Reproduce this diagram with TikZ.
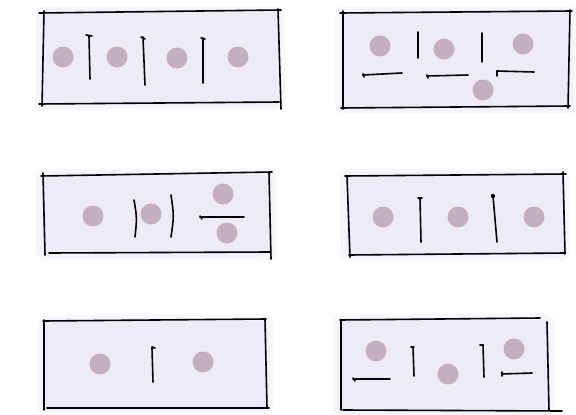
\documentclass[tikz,border=0pt]{standalone}
\usepackage{tikz}
\usetikzlibrary{positioning, calc}
\definecolor{panelfill}{HTML}{EDEBF7}
\definecolor{dotfill}{HTML}{C4AFC0}
\tikzstyle{pen}   = [line width=1.6pt, draw=black, line cap=round]
\tikzstyle{glow}  = [fill=panelfill, opacity=0.4, rounded corners=8pt]
\tikzstyle{panel} = [fill=panelfill]
\tikzstyle{dot}   = [circle, fill=dotfill, minimum size=21pt, inner sep=0pt]
\tikzstyle{bar}   = [line width=1.6pt, draw=black, line cap=round]

\begin{document}
\begin{tikzpicture}[x=1pt, y=-1pt]
  \useasboundingbox (0,0) rectangle (576,415);

  % soft background of the panels
  \foreach \xa/\ya/\xb/\yb in {43/12/278/104, 342/12/570/108, 43/175/270/254,
                               347/175/563/255, 44/321/267/408, 340/320/548/410}{
    \fill[glow] (\xa-7,\ya-6) rectangle (\xb+7,\yb+6);
    \fill[glow] (\xa-3,\ya-3) rectangle (\xb+3,\yb+3);
    \fill[panel] (\xa,\ya) rectangle (\xb,\yb);
  }

  % panel 1
  \draw[pen] (39,13) -- (281,10);
  \draw[pen] (44,11) -- (42,106);
  \draw[pen] (39,104) -- (279,102);
  \draw[pen] (278,9) -- (281,109);
  \node[dot] (a1) at (63,57) {};
  \node[dot] (a2) at (117,57) {};
  \node[dot] (a3) at (177,58) {};
  \node[dot] (a4) at (238,57) {};
  \draw[bar] (89,36) -- (90,79);  \draw[bar] (86,35) -- (92,36);
  \draw[bar] (143,37) -- (145,85); \draw[bar] (141,37) -- (145,39);
  \draw[bar] (203,38) -- (203,83); \draw[bar] (201,38) -- (205,39);

  % panel 2
  \draw[pen] (340,13) -- (572,11);
  \draw[pen] (343,11) -- (343,109);
  \draw[pen] (341,108) -- (570,106);
  \draw[pen] (570,10) -- (568,108);
  \node[dot] (b1) at (380,46) {};
  \node[dot] (b2) at (444,49) {};
  \node[dot] (b3) at (523,44) {};
  \node[dot] (b4) at (483,90) {};
  \draw[bar] (418,32) -- (418,58);
  \draw[bar] (482,33) -- (482,62);
  \draw[bar] (363,75) -- (402,73);  \draw[bar] (363,74) -- (364,77);
  \draw[bar] (427,76) -- (468,75);  \draw[bar] (427,75) -- (428,78);
  \draw[bar] (497,71) -- (534,72);  \draw[bar] (497,71) -- (497,76);

  % panel 3
  \draw[pen] (41,176) -- (272,172);
  \draw[pen] (43,173) -- (45,255);
  \draw[pen] (49,253) -- (270,252);
  \draw[pen] (269,172) -- (271,259);
  \node[dot] (c1) at (93,216) {};
  \node[dot] (c2) at (151,214) {};
  \node[dot] (c3) at (223,194) {};
  \node[dot] (c4) at (227,233) {};
  \draw[bar] (134,200) .. controls (137,218) .. (135,237);
  \draw[bar] (171,195) .. controls (174,216) .. (171,237);
  \draw[bar] (200,217) -- (244,217); \draw[bar] (200,216) -- (202,219);

  % panel 4
  \draw[pen] (345,176) -- (566,174);
  \draw[pen] (347,176) -- (350,257);
  \draw[pen] (349,255) -- (565,253);
  \draw[pen] (563,172) -- (565,254);
  \node[dot] (d1) at (383,217) {};
  \node[dot] (d2) at (458,217) {};
  \node[dot] (d3) at (534,217) {};
  \draw[bar] (420,198) -- (421,242); \draw[bar] (418,198) -- (422,198);
  \draw[bar] (493,196) -- (497,242); \fill (493,196) circle (2.2pt);

  % panel 5
  \draw[pen] (43,321) -- (266,319);
  \draw[pen] (44,320) -- (44,410);
  \draw[pen] (47,408) -- (269,408);
  \draw[pen] (265,319) -- (267,408);
  \node[dot] (e1) at (100,364) {};
  \node[dot] (e2) at (203,362) {};
  \draw[bar] (152,348) -- (153,382); \draw[bar] (152,347) -- (155,348);

  % panel 6
  \draw[pen] (340,320) -- (540,318);
  \draw[pen] (341,320) -- (341,410);
  \draw[pen] (343,410) -- (562,411);
  \draw[pen] (547,322) -- (549,410);
  \node[dot] (f1) at (376,351) {};
  \node[dot] (f2) at (448,374) {};
  \node[dot] (f3) at (514,349) {};
  \draw[bar] (413,347) -- (414,376); \draw[bar] (411,347) -- (414,347);
  \draw[bar] (483,345) -- (484,377); \draw[bar] (480,345) -- (483,345);
  \draw[bar] (353,379) -- (390,379); \draw[bar] (353,378) -- (355,381);
  \draw[bar] (502,374) -- (532,373); \draw[bar] (502,372) -- (502,376);
\end{tikzpicture}
\end{document}
